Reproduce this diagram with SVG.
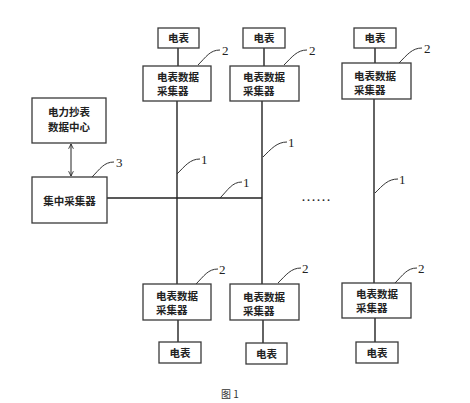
<svg xmlns="http://www.w3.org/2000/svg" width="470" height="403" viewBox="0 0 470 403">
<style>
.box{fill:#fff;stroke:#3a3a3a;stroke-width:1.3}
.ln{fill:none;stroke:#222;stroke-width:1.4}
.ld{fill:none;stroke:#333;stroke-width:1}
.t{font-family:"Noto Sans CJK SC","Noto Sans CJK JP",sans-serif;font-size:10.5px;font-weight:bold;fill:#222}
.c{text-anchor:middle}
.n{font-family:"Liberation Serif",serif;font-size:13px;fill:#222}
.cap{font-family:"Noto Sans CJK SC","Liberation Serif",serif;font-size:10px;fill:#333;text-anchor:middle}
</style>
<defs>
<marker id="ah" viewBox="0 0 10 10" refX="9" refY="5" markerWidth="6" markerHeight="6" orient="auto-start-reverse">
<path d="M1,1 L9,5 L1,9" fill="none" stroke="#222" stroke-width="1.4"/>
</marker>
</defs>
<rect width="470" height="403" fill="#fff"/>
<g id="connectors">
<line class="ln" x1="71" y1="144" x2="71" y2="176" marker-start="url(#ah)" marker-end="url(#ah)" style="stroke-width:1"/>
<line class="ln" x1="107" y1="198" x2="262" y2="198"/>
<line class="ln" x1="177" y1="101" x2="177" y2="284"/>
<line class="ln" x1="262" y1="101" x2="262" y2="284"/>
<line class="ln" x1="374" y1="99" x2="374" y2="283"/>
<line class="ln" x1="178" y1="48" x2="178" y2="66"/>
<line class="ln" x1="264" y1="48" x2="264" y2="66"/>
<line class="ln" x1="375" y1="48" x2="375" y2="63"/>
<line class="ln" x1="178" y1="320" x2="178" y2="342"/>
<line class="ln" x1="263" y1="320" x2="263" y2="343"/>
<line class="ln" x1="375" y1="318" x2="375" y2="342"/>
</g>
<g id="leaders">
<path class="ld" d="M198,65 C206,57 210,50 220,50"/>
<path class="ld" d="M284,65 C292,57 297,50 307,50"/>
<path class="ld" d="M399,63 C407,55 412,48 422,48"/>
<path class="ld" d="M92,177 C100,169 104,162 114,162"/>
<path class="ld" d="M177,174 C185,166 190,159 200,159"/>
<path class="ld" d="M263,157 C271,149 277,142 287,142"/>
<path class="ld" d="M220,198 C228,190 232,182 242,182"/>
<path class="ld" d="M375,193 C383,185 388,179 398,179"/>
<path class="ld" d="M196,284 C204,276 208,269 218,269"/>
<path class="ld" d="M278,283 C286,275 291,268 301,268"/>
<path class="ld" d="M395,283 C403,275 407,268 417,268"/>
</g>
<g id="labels">
<text class="n" x="222" y="55">2</text>
<text class="n" x="309" y="55">2</text>
<text class="n" x="424" y="53">2</text>
<text class="n" x="116" y="167">3</text>
<text class="n" x="201" y="164">1</text>
<text class="n" x="288" y="147">1</text>
<text class="n" x="243" y="187">1</text>
<text class="n" x="399" y="184">1</text>
<text class="n" x="219" y="274">2</text>
<text class="n" x="302" y="273">2</text>
<text class="n" x="418" y="273">2</text>
<text class="n" x="301" y="201" style="font-size:15px">……</text>
</g>
<g id="center">
<rect class="box" x="32" y="98" width="74" height="45"/>
<text class="t c" x="69" y="116">电力抄表</text>
<text class="t c" x="69" y="131">数据中心</text>
</g>
<g id="concentrator">
<rect class="box" x="32" y="177" width="75" height="46"/>
<text class="t c" x="69.5" y="205">集中采集器</text>
</g>
<g id="meter-t1"><rect class="box" x="158" y="28" width="41" height="20"/><text class="t c" x="178.5" y="42">电表</text></g>
<g id="meter-t2"><rect class="box" x="243" y="28" width="42" height="20"/><text class="t c" x="264" y="42">电表</text></g>
<g id="meter-t3"><rect class="box" x="354" y="28" width="42" height="20"/><text class="t c" x="375" y="42">电表</text></g>
<g id="col-t1"><rect class="box" x="143" y="66" width="68" height="35"/><text class="t" x="157" y="81">电表数据</text><text class="t" x="157" y="95">采集器</text></g>
<g id="col-t2"><rect class="box" x="230" y="66" width="69" height="35"/><text class="t" x="243" y="81">电表数据</text><text class="t" x="243" y="95">采集器</text></g>
<g id="col-t3"><rect class="box" x="342" y="63" width="69" height="36"/><text class="t" x="354" y="80">电表数据</text><text class="t" x="354" y="94">采集器</text></g>
<g id="col-b1"><rect class="box" x="143" y="284" width="68" height="36"/><text class="t" x="156" y="300">电表数据</text><text class="t" x="156" y="314">采集器</text></g>
<g id="col-b2"><rect class="box" x="230" y="284" width="69" height="36"/><text class="t" x="243" y="300.5">电表数据</text><text class="t" x="243" y="314.5">采集器</text></g>
<g id="col-b3"><rect class="box" x="342" y="283" width="69" height="35"/><text class="t" x="356" y="298">电表数据</text><text class="t" x="356" y="312">采集器</text></g>
<g id="meter-b1"><rect class="box" x="159" y="342" width="42" height="21"/><text class="t c" x="180" y="357">电表</text></g>
<g id="meter-b2"><rect class="box" x="246" y="343" width="41" height="21"/><text class="t c" x="266.5" y="358">电表</text></g>
<g id="meter-b3"><rect class="box" x="356" y="342" width="42" height="21"/><text class="t c" x="377" y="357">电表</text></g>
<text class="cap" x="230" y="398">图 1</text>
</svg>
